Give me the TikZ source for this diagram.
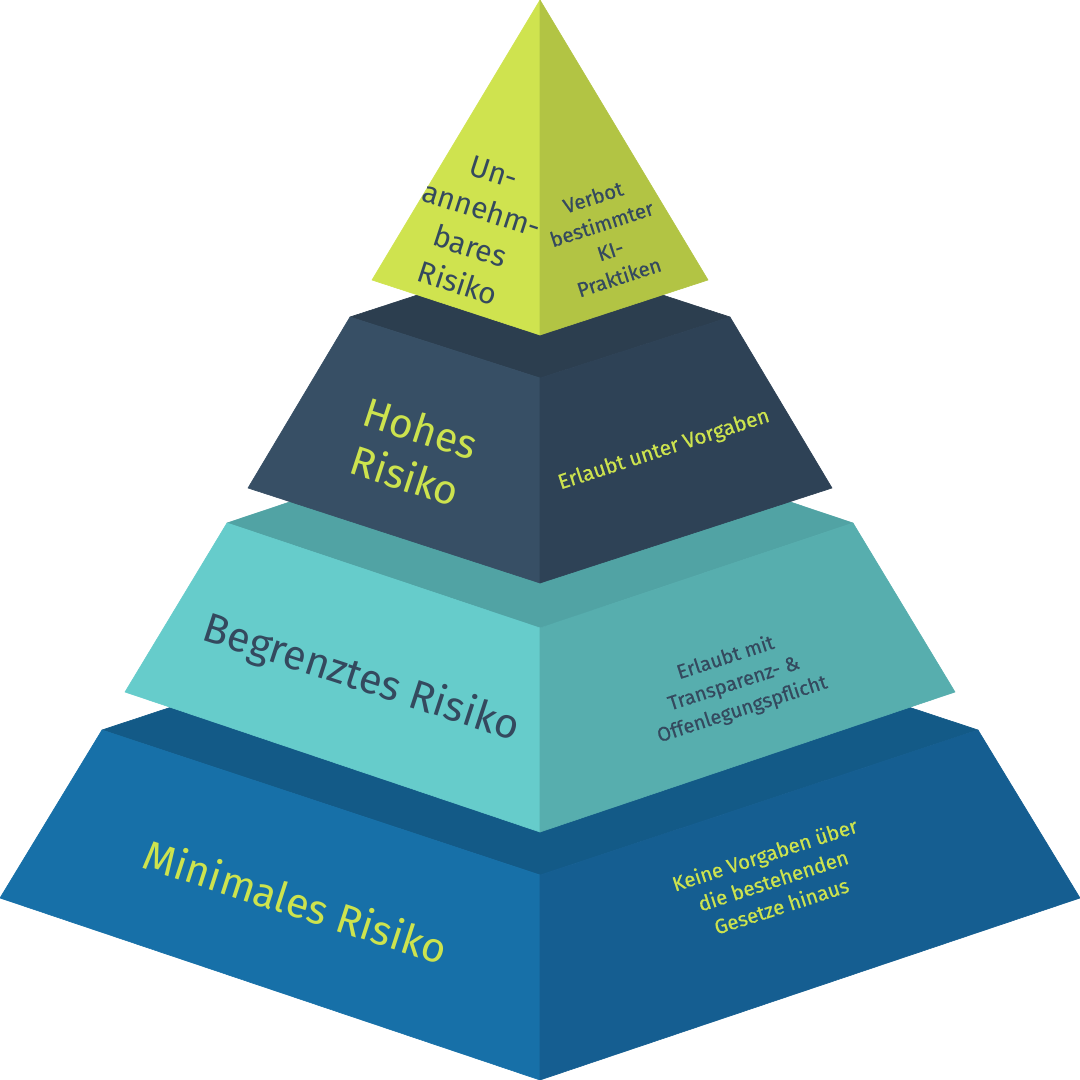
\documentclass[tikz,border=0pt]{standalone}
\usepackage{fontspec}
\setmainfont{Fira Sans}
\newfontfamily\medfont[FakeBold=0.5]{Fira Sans}
\definecolor{limeL}{HTML}{CFE34F}
\definecolor{limeR}{HTML}{B2C444}
\definecolor{navyT}{HTML}{2C3E4F}
\definecolor{navyL}{HTML}{374F65}
\definecolor{navyR}{HTML}{2E4256}
\definecolor{tealT}{HTML}{51A3A4}
\definecolor{tealL}{HTML}{66CCCB}
\definecolor{tealR}{HTML}{57AEAE}
\definecolor{blueT}{HTML}{135A87}
\definecolor{blueL}{HTML}{1770A8}
\definecolor{blueR}{HTML}{155E91}
\definecolor{txtLime}{HTML}{CDE34E}
\definecolor{txtDark}{HTML}{34495E}
\tikzset{
  face/.style={fill=#1, draw=#1, line width=0.6pt, line join=round},
  lefttxt/.style={rotate=-18, align=center, inner sep=0pt},
  righttxt/.style={rotate=18, align=center, inner sep=0pt},
}
\begin{document}
\begin{tikzpicture}[x=1pt,y=-1pt]
\useasboundingbox (0,0) rectangle (1080,1080);
% coordinates
\coordinate (Btl) at (102,730); \coordinate (Bbk) at (540,585);
\coordinate (Btr) at (978,730); \coordinate (Bf) at (540,875);
\coordinate (Bbl) at (0,898); \coordinate (Bbf) at (540,1080); \coordinate (Bbr) at (1080,898);
\coordinate (Ttl) at (227,523); \coordinate (Tbk) at (540,418);
\coordinate (Ttr) at (853,523); \coordinate (Tf) at (540,628);
\coordinate (Tbl) at (125,692); \coordinate (Tbf) at (540,832); \coordinate (Tbr) at (955,692);
\coordinate (Ntl) at (350,317); \coordinate (Nbk) at (540,255);
\coordinate (Ntr) at (730,317); \coordinate (Nf) at (540,378);
\coordinate (Nbl) at (248,488); \coordinate (Nbf) at (540,583); \coordinate (Nbr) at (832,488);
\coordinate (La) at (540,0); \coordinate (Ll) at (372,280);
\coordinate (Lr) at (708,280); \coordinate (Lf) at (540,335);
% blue tier
\path[face=blueT] (Btl) -- (Bbk) -- (Btr) -- (Bf) -- cycle;
\path[face=blueL] (Btl) -- (Bf) -- (Bbf) -- (Bbl) -- cycle;
\path[face=blueR] (Bf) -- (Btr) -- (Bbr) -- (Bbf) -- cycle;
% teal tier
\path[face=tealT] (Ttl) -- (Tbk) -- (Ttr) -- (Tf) -- cycle;
\path[face=tealL] (Ttl) -- (Tf) -- (Tbf) -- (Tbl) -- cycle;
\path[face=tealR] (Tf) -- (Ttr) -- (Tbr) -- (Tbf) -- cycle;
% navy tier
\path[face=navyT] (Ntl) -- (Nbk) -- (Ntr) -- (Nf) -- cycle;
\path[face=navyL] (Ntl) -- (Nf) -- (Nbf) -- (Nbl) -- cycle;
\path[face=navyR] (Nf) -- (Ntr) -- (Nbr) -- (Nbf) -- cycle;
% lime top
\path[face=limeL] (La) -- (Lf) -- (Ll) -- cycle;
\path[face=limeR] (La) -- (Lr) -- (Lf) -- cycle;
% texts
\node[lefttxt, text=txtDark, font=\fontsize{30}{39}\selectfont] (t1) at (476,228) {Un-\\annehm-\\bares\\Risiko};
\node[righttxt, text=txtDark, font=\medfont\fontsize{20.5}{28}\selectfont] (t2) at (606,237) {Verbot\\bestimmter\\KI-\\Praktiken};
\node[lefttxt, text=txtLime, font=\fontsize{41}{50}\selectfont] (t3) at (413,452) {Hohes\\Risiko};
\node[righttxt, text=txtLime, font=\medfont\fontsize{21}{26}\selectfont] (t4) at (664,450) {Erlaubt unter Vorgaben};
\node[lefttxt, text=txtDark, font=\fontsize{41.5}{50}\selectfont] (t5) at (361,679) {Begrenztes Risiko};
\node[righttxt, text=txtDark, font=\medfont\fontsize{20}{27}\selectfont] (t6) at (734,684) {Erlaubt mit\\Transparenz- \&\\Offenlegungspflicht};
\node[lefttxt, text=txtLime, font=\fontsize{41.5}{50}\selectfont] (t7) at (296,901) {Minimales Risiko};
\node[righttxt, text=txtLime, font=\medfont\fontsize{20.5}{27}\selectfont] (t8) at (773,880) {Keine Vorgaben über\\die bestehenden\\Gesetze hinaus};
\end{tikzpicture}
\end{document}
